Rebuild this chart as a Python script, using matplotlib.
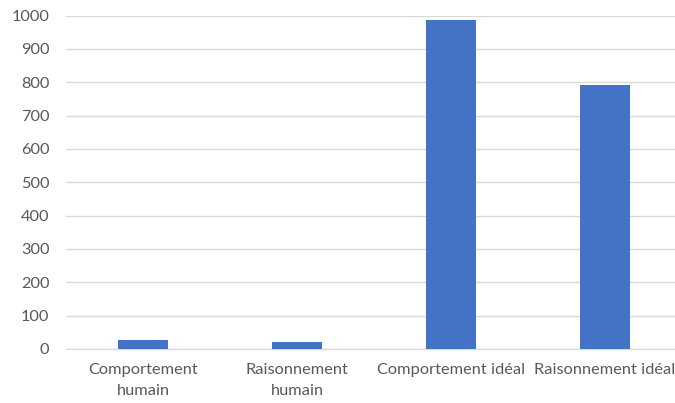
import matplotlib
matplotlib.use("Agg")
import matplotlib.pyplot as plt

categories = ["Comportement\nhumain", "Raisonnement\nhumain", "Comportement idéal", "Raisonnement idéal"]
values = [26, 20, 986, 792]
yticks = [0, 100, 200, 300, 400, 500, 600, 700, 800, 900, 1000]

plt.rcParams['font.family'] = ['Lato', 'DejaVu Sans']

fig = plt.figure(figsize=(6.75, 4.03), dpi=100)
ax = fig.add_axes([66 / 675, 54 / 403, 616 / 675, 333.5 / 403])

x = list(range(len(categories)))
ax.bar(x, values, width=0.32, color="#4472C4", zorder=3)

ax.set_xlim(-0.5, len(categories) - 0.5)
ax.set_ylim(0, 1000)
ax.set_yticks(yticks)
ax.set_xticks(x)
ax.set_xticklabels(categories, linespacing=1.65)
ax.grid(axis="y", color="#D9D9D9", linewidth=1, zorder=0)
for s in ["top", "right", "left"]:
    ax.spines[s].set_visible(False)
ax.spines["bottom"].set_color("#D9D9D9")
ax.tick_params(axis="both", length=0, labelsize=11.8, colors="#595959")
ax.tick_params(axis="y", pad=12)
ax.tick_params(axis="x", pad=10)

fig.savefig("out.png", dpi=100)
